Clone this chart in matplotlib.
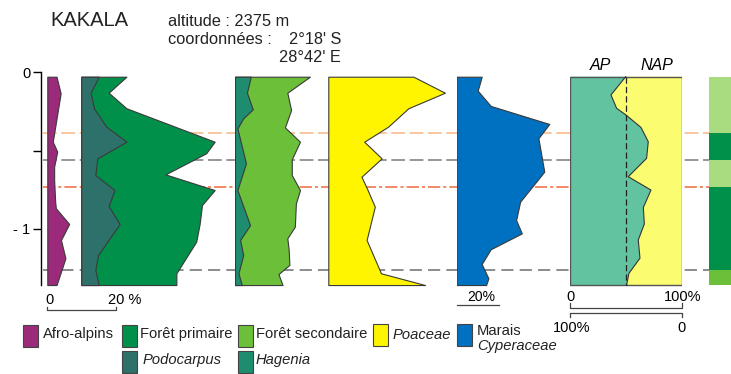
import numpy as np
import matplotlib.pyplot as plt
from matplotlib.patches import Rectangle

plt.rcParams['font.family'] = ['Liberation Sans', 'DejaVu Sans']

# pollen percentages against depth (m) for the Kakala core
afro_depth = [0.030, 0.136, 0.444, 0.507, 0.603, 0.688, 0.826, 0.868, 0.968, 1.070, 1.186, 1.357]
afro = [2.7, 3.9, 1.6, 2.9, 2.0, 2.0, 2.3, 2.5, 6.4, 4.0, 5.3, 2.7]

podo_depth = [0.030, 0.132, 0.231, 0.348, 0.444, 0.550, 0.656, 0.752, 0.854, 0.968, 1.166, 1.261, 1.357]
podo = [5.1, 2.7, 3.7, 7.3, 13.2, 4.7, 4.1, 9.7, 8.0, 11.2, 4.9, 4.1, 5.1]

prim_depth = [0.030, 0.132, 0.231, 0.444, 0.518, 0.652, 0.752, 0.847, 0.968, 1.081, 1.282, 1.357]
prim = [13.2, 8.0, 13.2, 39.0, 36.5, 24.6, 39.0, 35.3, 34.6, 33.6, 27.8, 27.8]

hag_depth = [0.030, 0.132, 0.238, 0.295, 0.359, 0.582, 0.752, 0.975, 1.070, 1.166, 1.282, 1.357]
hag = [4.6, 3.5, 5.2, 2.4, 0.7, 3.2, 0.7, 4.4, 1.5, 2.4, 1.0, 2.0]

sec_depth = [0.030, 0.132, 0.242, 0.353, 0.444, 0.556, 0.656, 0.752, 0.837, 0.985, 1.059, 1.134, 1.229, 1.287, 1.357]
sec = [21.9, 15.3, 16.4, 14.6, 19.0, 16.6, 16.6, 19.0, 17.8, 17.5, 15.3, 15.7, 15.9, 12.7, 13.9]

poa_depth = [0.030, 0.132, 0.231, 0.348, 0.444, 0.550, 0.667, 0.752, 0.858, 1.070, 1.282, 1.357]
poa = [24.9, 34.1, 23.4, 17.5, 10.5, 15.6, 9.7, 11.5, 13.6, 11.2, 15.4, 28.3]

cyp_depth = [0.030, 0.119, 0.216, 0.331, 0.422, 0.635, 0.826, 0.943, 1.028, 1.129, 1.223, 1.314, 1.357]
cyp = [11.9, 10.0, 16.2, 44.1, 38.9, 41.7, 30.2, 28.3, 31.0, 16.2, 11.9, 15.1, 14.0]

ap_depth = [0.030, 0.146, 0.231, 0.274, 0.353, 0.444, 0.550, 0.667, 0.752, 0.863, 0.968, 1.070, 1.186, 1.282, 1.357]
ap = [49.6, 36.5, 41.5, 49.9, 63.2, 69.7, 68.2, 51.9, 72.1, 65.3, 66.2, 60.8, 62.3, 52.5, 50.4]

# pollen zones
zone_edges = [0.030, 0.389, 0.561, 0.732, 1.261, 1.357]
zone_colors = ['#a9dc80', '#00904a', '#a9dc80', '#00904a', '#6cbf38']
bound_colors = ['#f7b585', '#7a7a7a', '#f06a3a', '#6e6e6e']
bound_dashes = [(9, 3), (9, 3), (8, 2, 2, 2), (8, 4)]

W, H = 731, 374
Y_TOP, Y_BOT = 60, 290
EDGE = '#3a3a3a'


def depth_at(ypx):
    return (ypx - 72) / 157


def yfrac(ypx):
    return (Y_BOT - ypx) / (Y_BOT - Y_TOP)


fig = plt.figure(figsize=(W / 100, H / 100), dpi=100)


def add_panel(left, width):
    ax = fig.add_axes([left / W, 1 - Y_BOT / H, width / W, (Y_BOT - Y_TOP) / H])
    ax.set_ylim(depth_at(Y_BOT), depth_at(Y_TOP))
    ax.set_axis_off()
    return ax


# depth axis and zone boundaries
axd = fig.add_axes([40.7 / W, 1 - Y_BOT / H, (709 - 40.7) / W, (Y_BOT - Y_TOP) / H])
axd.set_ylim(depth_at(Y_BOT), depth_at(Y_TOP))
axd.set_xlim(0, 1)
axd.patch.set_visible(False)
for s in ['top', 'right', 'bottom']:
    axd.spines[s].set_visible(False)
axd.spines['left'].set_bounds(0, zone_edges[-1])
axd.spines['left'].set_linewidth(1.0)
axd.set_xticks([])
axd.set_yticks([0, 0.5, 1])
axd.set_yticklabels(['0', '', '- 1'])
axd.tick_params(axis='y', length=5.5, width=1.0, pad=2, labelsize=10.5)
for d, c, ds in zip(zone_edges[1:-1], bound_colors, bound_dashes):
    axd.axhline(d, xmin=0.004, color=c, lw=1.1, dashes=ds)

px = 3.42  # pixels per percent on the main panels

# Afro-alpins
ax = add_panel(47.3, 30)
ax.set_xlim(0, 30 / px)
ax.fill_betweenx(afro_depth, 0, afro, facecolor='#9b2a7b', edgecolor=EDGE, lw=0.8)
tr = ax.get_xaxis_transform()
ax.plot([0, 0, 20, 20], [yfrac(306.5), yfrac(310), yfrac(310), yfrac(306.5)],
        color='#444444', lw=0.9, transform=tr, clip_on=False)
ax.text(0.5, yfrac(300), '0', transform=tr, ha='center', va='center', fontsize=10.5)
ax.text(17.8, yfrac(300), '20 %', transform=tr, ha='left', va='center', fontsize=10.5)

# Foret primaire with Podocarpus
ax = add_panel(81.3, 145)
ax.set_xlim(0, 145 / px)
ax.fill_betweenx(prim_depth, 0, prim, facecolor='#00904a', edgecolor=EDGE, lw=0.8)
ax.fill_betweenx(podo_depth, 0, podo, facecolor='#2e706a', edgecolor=EDGE, lw=0.8)

# Foret secondaire with Hagenia
ax = add_panel(235, 85)
ax.set_xlim(0, 85 / px)
ax.fill_betweenx(sec_depth, 0, sec, facecolor='#6cbf38', edgecolor=EDGE, lw=0.8)
ax.fill_betweenx(hag_depth, 0, hag, facecolor='#1e8c6e', edgecolor=EDGE, lw=0.8)

# Poaceae
ax = add_panel(328.3, 125)
ax.set_xlim(0, 125 / px)
ax.fill_betweenx(poa_depth, 0, poa, facecolor='#fff500', edgecolor=EDGE, lw=0.8)

# Marais (Cyperaceae), own scale
pxm = 2.1
ax = add_panel(456.7, 100)
ax.set_xlim(0, 100 / pxm)
ax.fill_betweenx(cyp_depth, 0, cyp, facecolor='#0070c0', edgecolor=EDGE, lw=0.8)
tr = ax.get_xaxis_transform()
ax.plot([0, 20], [yfrac(305), yfrac(305)], color='#444444', lw=0.9, transform=tr, clip_on=False)
ax.text(11.5, yfrac(297), '20%', transform=tr, ha='center', va='center', fontsize=10)

# AP / NAP
ax = add_panel(570, 112.3)
ax.set_xlim(0, 100)
ax.fill_betweenx(ap_depth, 0, ap, facecolor='#62c3a0', lw=0)
ax.fill_betweenx(ap_depth, ap, 100, facecolor='#fcfc70', lw=0)
ax.plot(ap, ap_depth, color='#333333', lw=0.8)
ax.plot([50, 50], [ap_depth[0], ap_depth[-1]], color='#222222', lw=0.9, dashes=(5, 2.5))
ax.add_patch(Rectangle((0, ap_depth[0]), 100, ap_depth[-1] - ap_depth[0],
                       fill=False, edgecolor='#555555', lw=1.0))
tr = ax.get_xaxis_transform()
ax.text(27.5, yfrac(65), 'AP', transform=tr, ha='center', va='center', fontsize=11.5, style='italic')
ax.text(77, yfrac(65), 'NAP', transform=tr, ha='center', va='center', fontsize=11.5, style='italic')
ax.plot([0, 0, 100, 100], [yfrac(302.5), yfrac(307.5), yfrac(307.5), yfrac(302.5)],
        color='#444444', lw=0.9, transform=tr, clip_on=False)
ax.plot([0, 0, 100, 100], [yfrac(316.5), yfrac(312.5), yfrac(312.5), yfrac(316.5)],
        color='#444444', lw=0.9, transform=tr, clip_on=False)
ax.text(0.5, yfrac(297), '0', transform=tr, ha='center', va='center', fontsize=10.5)
ax.text(100, yfrac(297), '100%', transform=tr, ha='center', va='center', fontsize=10.5)
ax.text(1.5, yfrac(328), '100%', transform=tr, ha='center', va='center', fontsize=10.5)
ax.text(99.5, yfrac(328), '0', transform=tr, ha='center', va='center', fontsize=10.5)

# zone column
ax = add_panel(709, 24)
ax.set_xlim(0, 1)
for top, bot, c in zip(zone_edges[:-1], zone_edges[1:], zone_colors):
    ax.axhspan(top, bot, color=c, lw=0)

# header
fig.text(50 / W, 1 - 21 / H, 'KAKALA', fontsize=14.5, va='center', color='#222222')
fig.text(168 / W, 1 - 21 / H, 'altitude : 2375 m', fontsize=11.8, va='center', color='#222222')
fig.text(168 / W, 1 - 39 / H, 'coordonnées :', fontsize=11.8, va='center', color='#222222')
fig.text(341 / W, 1 - 39 / H, "2°18' S", fontsize=11.8, va='center', ha='right', color='#222222')
fig.text(341 / W, 1 - 57 / H, "28°42' E", fontsize=11.8, va='center', ha='right', color='#222222')

# legend
legend_items = [
    ('#9b2a7b', 22.5, 325, 'Afro-alpins', 43, 334, 'normal'),
    ('#00904a', 121.7, 325, 'Forêt primaire', 140, 334, 'normal'),
    ('#2e706a', 121.7, 351, 'Podocarpus', 143, 360, 'italic'),
    ('#6cbf38', 237.5, 325, 'Forêt secondaire', 256, 334, 'normal'),
    ('#1e8c6e', 237.5, 351, 'Hagenia', 256, 360, 'italic'),
    ('#fff500', 372.7, 324, 'Poaceae', 393, 335, 'italic'),
    ('#0070c0', 456.7, 324, 'Marais', 477, 331, 'normal'),
]
for color, bx, by, label, tx, ty, st in legend_items:
    fig.add_artist(Rectangle((bx / W, 1 - (by + 22) / H), 15 / W, 22 / H,
                             transform=fig.transFigure, facecolor=color,
                             edgecolor='#444444', lw=0.8))
    fig.text(tx / W, 1 - ty / H, label, fontsize=10.6, va='center', style=st, color='#222222')
fig.text(477 / W, 1 - 346 / H, 'Cyperaceae', fontsize=10.6, va='center', style='italic', color='#222222')

fig.savefig('out.png', dpi=100)
